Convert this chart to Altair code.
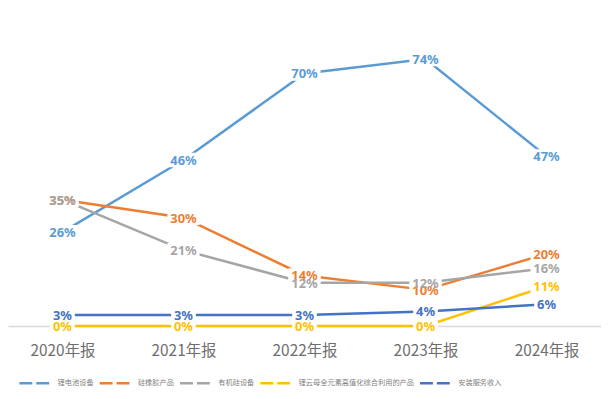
import altair as alt
import pandas as pd

years = ["2020年报", "2021年报", "2022年报", "2023年报", "2024年报"]
series = ["锂电池设备", "硅橡胶产品", "有机硅设备", "锂云母全元素高值化综合利用的产品", "安装服务收入"]
colors = ["#5B9BD5", "#ED7D31", "#A5A5A5", "#FFC000", "#4472C4"]

lithium_battery_equipment = [26, 46, 70, 74, 47]
silicone_rubber_products = [35, 30, 14, 10, 20]
organosilicon_equipment = [35, 21, 12, 12, 16]
lepidolite_products = [0, 0, 0, 0, 11]
installation_service = [3, 3, 3, 4, 6]

values = [lithium_battery_equipment, silicone_rubber_products, organosilicon_equipment,
          lepidolite_products, installation_service]

rows = []
for s, vals in zip(series, values):
    for y, v in zip(years, vals):
        rows.append({"year": y, "series": s, "v": v})
df = pd.DataFrame(rows)

x = alt.X("year:O", sort=years, title=None,
          scale=alt.Scale(type="point", padding=0.45),
          axis=alt.Axis(labelAngle=0, ticks=False, domainColor="#d9d9d9", domainWidth=1.5,
                        labelFont="Noto Sans CJK SC", labelFontSize=15.5, labelColor="#6e6e6e",
                        labelPadding=18, grid=False))
y = alt.Y("v:Q", scale=alt.Scale(domain=[0, 80], nice=False), axis=None)
cscale = alt.Scale(domain=series, range=colors)

base = alt.Chart(df).transform_calculate(
    label="datum.v + '%'",
    bs="length(datum.v + '%') > 2 ? 1050 : 620",
)

lines = base.mark_line(strokeWidth=2.5).encode(
    x=x, y=y,
    color=alt.Color("series:N", scale=cscale, title=None,
                    legend=alt.Legend(orient="none", direction="horizontal", legendX=10, legendY=332,
                                      symbolType="stroke", symbolSize=900, symbolStrokeWidth=2.5,
                                      symbolDash=[13, 4], labelFont="Noto Sans CJK SC",
                                      labelFontSize=7.3, labelColor="#7f7f7f", labelOffset=7,
                                      columnPadding=0, labelLimit=200)),
    detail="series:N",
)

boxes = base.mark_point(shape="M-1,-0.45L1,-0.45L1,0.45L-1,0.45Z", filled=True, opacity=1,
                        strokeWidth=0).encode(
    x=x, y=y,
    color=alt.value("white"),
    size=alt.Size("bs:Q", scale=None, legend=None),
)

texts = base.mark_text(font="Noto Sans", fontWeight="bold", fontSize=13, baseline="middle",
                       align="center", dy=1).encode(
    x=x, y=y,
    text="label:N",
    color=alt.Color("series:N", scale=cscale, legend=None),
)

chart = alt.layer(lines, boxes, texts).properties(
    width=598, height=291,
    autosize=alt.AutoSizeParams(type="none"),
    padding={"left": 0, "top": 28, "right": 0, "bottom": 64},
).configure_view(stroke=None)

chart.save("out.html", embed_options={"renderer": "svg", "actions": False})
